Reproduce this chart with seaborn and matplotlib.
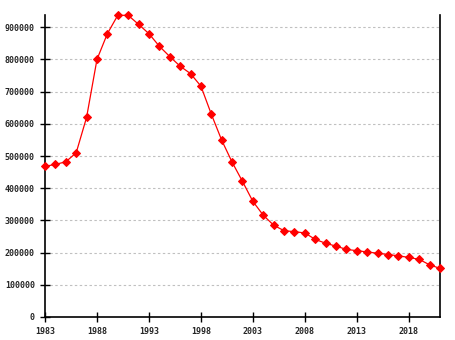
import matplotlib
matplotlib.use("Agg")
import matplotlib.pyplot as plt
import seaborn as sns
import pandas as pd

years = list(range(1983, 2022))
population = [468000, 474000, 482000, 510000, 620000, 800000, 880000, 937000, 937000, 909000,
              880000, 841000, 809000, 779000, 756000, 717000, 630000, 549000, 481000, 421000,
              359000, 316000, 285000, 268000, 265000, 261000, 241000, 229000, 220000, 210000,
              206000, 202000, 198000, 194000, 190000, 185000, 179000, 162000, 151000]
xticks = [1983, 1988, 1993, 1998, 2003, 2008, 2013, 2018]
yticks = list(range(0, 1000000, 100000))

df = pd.DataFrame({"year": years, "population": population})

sns.set_style("white")
plt.rcParams['font.family'] = ['DejaVu Sans Mono', 'DejaVu Sans']

fig = plt.figure(figsize=(4.55, 3.4), dpi=100)
ax = fig.add_axes([45/455, 1 - 317/340, (440 - 45)/455, (317 - 15)/340])

sns.lineplot(data=df, x="year", y="population", ax=ax, color="#ff0000",
             marker="D", markersize=4.5, markeredgecolor="#ff0000", linewidth=0.9,
             clip_on=False, zorder=5)

ax.set_xlim(1983, 2021)
ax.set_ylim(0, 938000)
ax.set_xticks(xticks)
ax.set_xticklabels([str(t) for t in xticks])
ax.set_yticks(yticks)
ax.set_yticklabels([str(t) for t in yticks])
ax.set_xlabel("")
ax.set_ylabel("")

for y in yticks[1:]:
    ax.axhline(y, color="#c0c0c0", linestyle=(0, (2.2, 2.2)), linewidth=0.8, zorder=0)

for s in ["left", "right", "bottom"]:
    ax.spines[s].set_visible(True)
    ax.spines[s].set_color("black")
    ax.spines[s].set_linewidth(1.2)
ax.spines["top"].set_visible(False)

ax.tick_params(axis="both", which="major", direction="inout", length=6.5, width=1.0,
               color="black", labelsize=6, pad=4, bottom=True, left=True,
               top=False, right=False)
for lab in ax.get_xticklabels() + ax.get_yticklabels():
    lab.set_fontweight("bold")

fig.savefig("out.png", dpi=100)
